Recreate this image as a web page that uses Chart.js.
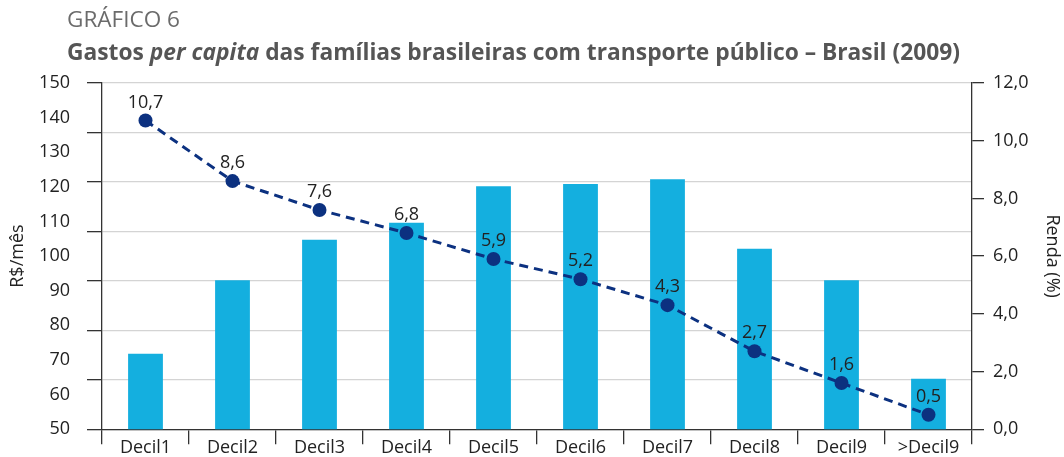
<!DOCTYPE html>
<html>
<head>
<meta charset="utf-8">
<script src="https://cdn.jsdelivr.net/npm/chart.js@4/dist/chart.umd.min.js"></script>
<style>
  body { margin: 0; background: #fff; }
  #wrap { position: relative; width: 1064px; height: 457px; overflow: hidden; }
  #kicker { position: absolute; left: 67px; top: 5px; font: 21px "Open Sans", sans-serif; color: #6b6b6b; white-space: nowrap; transform-origin: left top; }
  #title { position: absolute; left: 67px; top: 35px; font: bold 23px "Open Sans", sans-serif; color: #555; white-space: nowrap; transform-origin: left top; }
</style>
</head>
<body>
<div id="wrap">
  <canvas id="chart"></canvas>
  <div id="kicker">GRÁFICO 6</div>
  <div id="title">Gastos <i>per capita</i> das famílias brasileiras com transporte público – Brasil (2009)</div>
</div>
<script>
// dados
const categorias = ['Decil1', 'Decil2', 'Decil3', 'Decil4', 'Decil5', 'Decil6', 'Decil7', 'Decil8', 'Decil9', '>Decil9'];
const gastos = [71.8, 93.0, 104.7, 109.6, 120.2, 120.8, 122.2, 102.1, 93.0, 64.6];   // R$/mês
const renda = [10.7, 8.6, 7.6, 6.8, 5.9, 5.2, 4.3, 2.7, 1.6, 0.5];                  // %

// fit the two header lines to the widths they have in the picture
function fit(id, largura) {
  const el = document.getElementById(id);
  const w = el.getBoundingClientRect().width;
  el.style.transform = 'scaleX(' + (largura / w) + ')';
}
fit('kicker', 113);
fit('title', 893);

const fonte = '"Open Sans", sans-serif';
const escuro = '#333';

// rótulos em cima dos pontos da linha
const rotulos = {
  id: 'rotulos',
  afterDatasetsDraw(chart) {
    const meta = chart.getDatasetMeta(1);
    const c = chart.ctx;
    c.save();
    c.font = '18px ' + fonte;
    c.fillStyle = '#222';
    c.textAlign = 'center';
    c.textBaseline = 'alphabetic';
    meta.data.forEach(function (pt, i) {
      c.fillText(renda[i].toFixed(1).replace('.', ','), pt.x, pt.y - 13);
    });
    c.restore();
  }
};

new Chart(document.getElementById('chart'), {
  data: {
    labels: categorias,
    datasets: [{
      type: 'bar',
      data: gastos,
      yAxisID: 'y',
      backgroundColor: '#14afdf',
      barPercentage: 0.4,
      categoryPercentage: 1,
      order: 1
    }, {
      type: 'line',
      data: renda,
      yAxisID: 'y1',
      borderColor: '#0c3180',
      borderWidth: 3,
      borderDash: [9, 6],
      pointRadius: 7,
      pointBackgroundColor: '#0c3180',
      pointBorderWidth: 0,
      fill: false,
      order: 0
    }]
  },
  options: {
    responsive: true,
    maintainAspectRatio: false,
    animation: false,
    layout: { padding: { top: 83, left: 0, right: 0, bottom: 0 } },
    plugins: { legend: { display: false }, tooltip: { enabled: false }, title: { display: false } },
    scales: {
      x: {
        grid: { offset: true, drawOnChartArea: false, tickLength: 15, color: escuro, lineWidth: 1.3 },
        border: { color: escuro, width: 1.3 },
        ticks: { color: '#222', font: { family: fonte, size: 18 }, padding: -7 },
        afterFit: function (s) { s.height = 25; }
      },
      y: {
        position: 'left',
        weight: 1,
        min: 50, max: 150,
        ticks: { stepSize: 10, color: '#222', font: { family: fonte, size: 18 }, padding: 17 },
        grid: { display: false, drawTicks: false, tickLength: 0 },
        border: { display: false },
        title: { display: true, text: 'R$/mês', color: '#222', font: { family: fonte, size: 18 }, padding: { top: 7, bottom: 0 } },
        afterFit: function (s) { s.width = 87; }
      },
      g: {
        position: 'left',
        weight: 0,
        min: 0, max: 7,
        ticks: { display: false, stepSize: 1 },
        grid: { color: '#d4d4d4', lineWidth: 1.3, tickColor: escuro, tickLength: 15 },
        border: { color: escuro, width: 1.3 },
        afterFit: function (s) { s.width = 15; }
      },
      y1: {
        position: 'right',
        min: 0, max: 12,
        ticks: {
          stepSize: 2, color: '#222', font: { family: fonte, size: 18 }, padding: 9,
          callback: function (v) { return v.toFixed(1).replace('.', ','); }
        },
        grid: { drawOnChartArea: false, tickLength: 12, color: escuro, lineWidth: 1.3 },
        border: { color: escuro, width: 1.3 },
        title: { display: true, text: 'Renda (%)', color: '#222', font: { family: fonte, size: 18 }, padding: { top: 1, bottom: 0 } },
        afterFit: function (s) { s.width = 92; }
      }
    }
  },
  plugins: [rotulos]
});
</script>
</body>
</html>
